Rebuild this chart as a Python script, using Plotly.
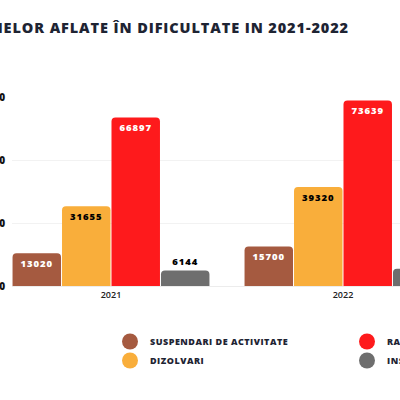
import plotly.graph_objs as go

# date
ani = ["2021", "2022"]
suspendari = [13020, 15700]
dizolvari = [31655, 39320]
radieri = [66897, 73639]
insolvente = [6144, 6800]

serii = ["SUSPENDARI DE ACTIVITATE", "DIZOLVARI", "RADIERI", "INSOLVENTE"]
culori = ["#A55A40", "#F9AE3B", "#FE1A1C", "#6E6E6E"]
valori = [suspendari, dizolvari, radieri, insolvente]

y_ticks = [0, 25000, 50000, 75000]
titlu = "FIRMELOR AFLATE ÎN DIFICULTATE IN 2021-2022"

FONT = "Open Sans"
NAVY = "#1E2433"


def spatiat(s, px):
    return '<span style="letter-spacing:%spx">%s</span>' % (px, s)


fig = go.Figure()

text_culori = ["white", "black", "white", "black"]
pozitii = ["inside", "inside", "inside", "outside"]

for nume, cul, val, tc, poz in zip(serii, culori, valori, text_culori, pozitii):
    fig.add_trace(go.Bar(
        x=ani, y=val, name=nume, marker_color=cul, marker_line_width=0,
        text=[spatiat(str(v), 0.9) for v in val],
        textposition=poz, insidetextanchor="end",
        textfont=dict(family=FONT, size=9.5, color=tc, weight=800),
        cliponaxis=True, showlegend=False, hoverinfo="skip",
    ))

# legenda cu cercuri (doua coloane)
for i, (nume, cul) in enumerate(zip(serii, culori)):
    fig.add_trace(go.Scatter(
        x=[None], y=[None], mode="markers", name=spatiat(nume, 0.5),
        marker=dict(symbol="circle", size=16, color=cul),
        legend="legend" if i < 2 else "legend2",
    ))

leg_font = dict(family=FONT, size=9, color=NAVY, weight=800)

fig.update_layout(
    width=400, height=400,
    margin=dict(l=12, r=0, t=97, b=114, autoexpand=False),
    paper_bgcolor="white", plot_bgcolor="white",
    barmode="group", bargap=0.147, bargroupgap=0.02, barcornerradius=4,
    title=dict(
        text=spatiat(titlu, 0.9), x=349 / 400, xanchor="right", xref="container",
        y=1 - 28 / 400, yanchor="middle", yref="container",
        font=dict(family=FONT, size=14.5, color=NAVY, weight=800),
    ),
    xaxis=dict(
        type="category", range=[-0.4267, 1.2457], showgrid=False,
        showline=True, linecolor="#ECECEC", linewidth=1, ticks="",
        tickfont=dict(family=FONT, size=9, color="#222222", weight=600),
        automargin=False,
    ),
    yaxis=dict(
        range=[0, 75000], tickvals=y_ticks, ticktext=[str(t) for t in y_ticks],
        showgrid=True, gridcolor="#F2F2F2", gridwidth=1, zeroline=False,
        showline=False, ticks="outside", ticklen=4, tickcolor="rgba(0,0,0,0)",
        tickfont=dict(family=FONT, size=10, color="#111111", weight=800),
        automargin=False,
    ),
    legend=dict(
        x=(110 - 12) / 388, xanchor="left", y=(286 - 327) / 189, yanchor="top",
        font=leg_font, bgcolor="rgba(0,0,0,0)", tracegroupgap=0,
    ),
    legend2=dict(
        x=(347 - 12) / 388, xanchor="left", y=(286 - 327) / 189, yanchor="top",
        font=leg_font, bgcolor="rgba(0,0,0,0)", tracegroupgap=0,
    ),
)

# pagina fara marginea implicita a body-ului
fig.write_html("out.html", config={"displayModeBar": False},
               post_script="document.body.style.margin='0';")
